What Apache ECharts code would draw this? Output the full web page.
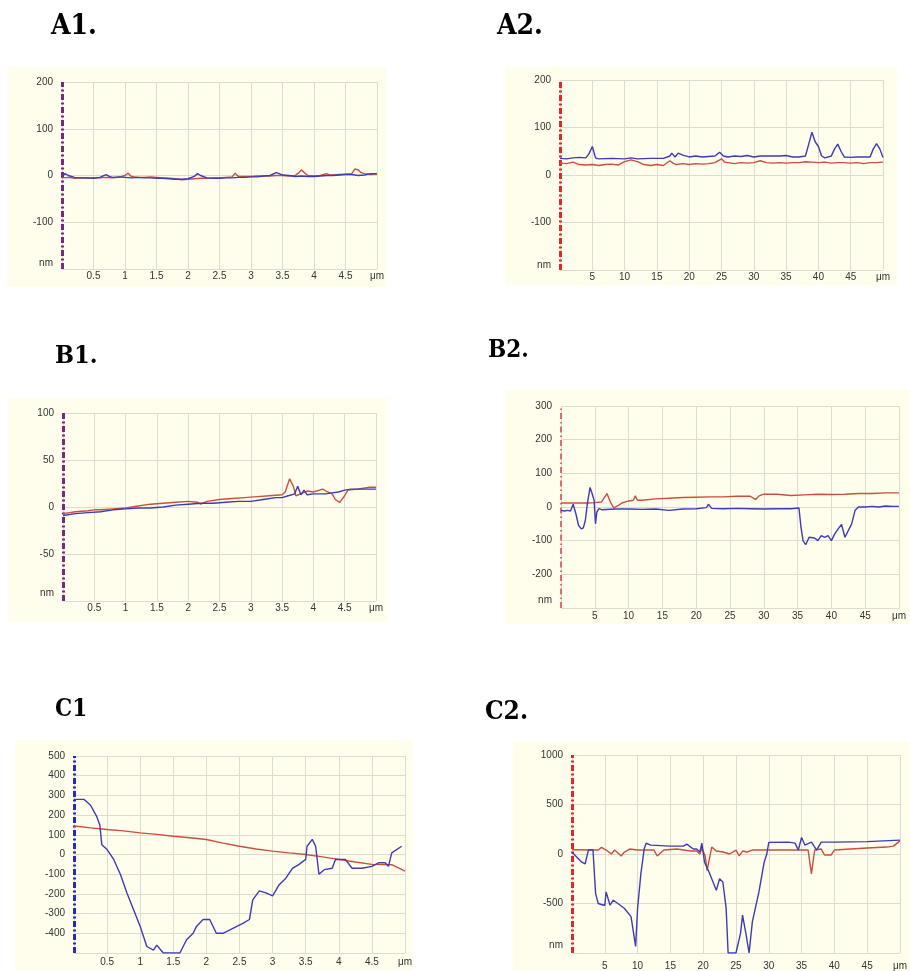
<!DOCTYPE html>
<html>
<head>
<meta charset="utf-8">
<style>
  html, body { margin: 0; padding: 0; background: #fff; }
  #chart { width: 910px; height: 971px; }
</style>
<script src="https://cdn.jsdelivr.net/npm/echarts@6/dist/echarts.min.js"></script>
</head>
<body>
<div id="chart"></div>
<script>
// profile data: [position, height]
// A1 (0-5 um, +-200 nm)
const a1Blue = [[0,-2],[0.05,4],[0.1,0],[0.2,-4],[0.3,-5],[0.4,-5],[0.5,-6],[0.6,-4],[0.7,2],[0.75,-2],[0.8,-4],[0.9,-3],[1.0,-4],[1.1,-5],[1.2,-4],[1.3,-5],[1.4,-5],[1.5,-6],[1.6,-6],[1.7,-7],[1.8,-8],[1.9,-8],[2.0,-7],[2.1,-2],[2.15,4],[2.2,0],[2.3,-5],[2.4,-6],[2.5,-6],[2.6,-5],[2.7,-5],[2.8,-4],[2.9,-4],[3.0,-3],[3.1,-3],[3.2,-1],[3.3,0],[3.4,6],[3.45,4],[3.5,1],[3.6,0],[3.7,-2],[3.8,-1],[3.9,-2],[4.0,-2],[4.1,-1],[4.2,0],[4.3,0],[4.4,1],[4.5,2],[4.6,2],[4.7,0],[4.8,1],[4.9,4],[5.0,4]]
const a1Red = [[0,-5],[0.1,-4],[0.2,-6],[0.3,-5],[0.4,-6],[0.5,-5],[0.6,-5],[0.7,-4],[0.8,-5],[0.9,-4],[1.0,0],[1.05,5],[1.1,-2],[1.2,-4],[1.3,-4],[1.4,-3],[1.5,-4],[1.6,-5],[1.7,-6],[1.8,-7],[1.9,-9],[2.0,-8],[2.1,-7],[2.2,-6],[2.3,-6],[2.4,-5],[2.5,-5],[2.6,-4],[2.7,-3],[2.75,5],[2.8,-2],[2.9,-2],[3.0,-2],[3.1,-1],[3.2,-1],[3.3,-1],[3.4,0],[3.5,0],[3.6,-1],[3.7,0],[3.75,5],[3.8,12],[3.85,6],[3.9,0],[4.0,-1],[4.1,0],[4.2,4],[4.25,1],[4.3,1],[4.4,2],[4.5,3],[4.6,4],[4.65,14],[4.7,12],[4.75,6],[4.8,4],[4.9,2],[5.0,3]]

// A2 (0-50 um, +-200 nm)
const a2Blue = [[0,35],[1,34],[2,36],[3,37],[4,36],[4.5,45],[5,60],[5.5,36],[6,34],[8,35],[10,34],[11,36],[12,34],[14,35],[16,35],[17,40],[17.3,46],[17.8,38],[18.3,46],[19,42],[20,38],[21,40],[22,38],[23,39],[24,40],[24.7,48],[25.3,40],[26,38],[27,40],[28,39],[29,41],[30,38],[31,40],[32,40],[33,40],[34,40],[35,41],[36,38],[37,38],[38,40],[38.5,65],[39,90],[39.5,70],[40,60],[40.5,40],[41,36],[42,40],[42.5,55],[43,65],[43.5,50],[44,38],[45,37],[46,38],[47,38],[48,38],[48.5,55],[49,66],[49.5,55],[50,37]]
const a2Red = [[0,25],[1,24],[2,27],[3,22],[4,21],[5,22],[6,20],[7,22],[8,23],[9,21],[10,28],[11,32],[12,28],[13,22],[14,20],[15,22],[16,20],[17,30],[17.5,25],[18,22],[19,24],[20,22],[21,24],[22,23],[23,24],[24,26],[25,34],[25.5,27],[26,26],[27,24],[28,26],[29,25],[30,26],[31,30],[32,26],[33,25],[34,26],[35,25],[36,26],[37,26],[38,28],[39,27],[40,26],[41,27],[42,25],[43,26],[44,26],[45,25],[46,26],[47,24],[48,26],[49,26],[50,27]]

// B1 (0-5 um, +-100 nm)
const b1Blue = [[0,-9],[0.2,-7],[0.4,-6],[0.6,-5],[0.8,-3],[1.0,-2],[1.2,-1],[1.4,-1],[1.6,0],[1.8,2],[2.0,3],[2.2,4],[2.4,4],[2.6,5],[2.8,6],[3.0,6],[3.2,8],[3.4,10],[3.5,10],[3.6,12],[3.7,14],[3.75,22],[3.8,13],[3.85,18],[3.9,13],[4.0,14],[4.1,14],[4.2,14],[4.3,15],[4.4,16],[4.5,18],[4.6,19],[4.8,19],[5.0,19]]
const b1Red = [[0,-7],[0.2,-5],[0.4,-4],[0.5,-3],[0.6,-3],[0.8,-2],[1.0,-1],[1.2,1],[1.4,3],[1.6,4],[1.8,5],[2.0,6],[2.15,5],[2.2,3],[2.3,6],[2.5,8],[2.7,9],[2.9,10],[3.1,11],[3.3,12],[3.5,13],[3.55,16],[3.62,30],[3.68,22],[3.72,12],[3.8,14],[3.9,17],[4.0,16],[4.1,18],[4.15,19],[4.2,17],[4.3,14],[4.35,8],[4.42,5],[4.5,12],[4.55,18],[4.7,19],[4.9,21],[5.0,21]]

// B2 (0-50 um, +-300 nm)
const b2Blue = [[0,-10],[0.5,-12],[1,-10],[1.4,-12],[1.8,8],[2.2,-20],[2.6,-55],[3,-65],[3.3,-62],[3.6,-40],[3.9,10],[4.3,58],[4.6,40],[4.9,20],[5.1,-50],[5.3,-15],[5.6,-5],[6,-8],[8,-6],[10,-6],[12,-7],[14,-6],[16,-10],[18,-6],[20,-5],[21.5,-2],[21.8,8],[22.3,-4],[24,-5],[26,-4],[28,-5],[30,-6],[32,-5],[34,-5],[35.2,-3],[35.5,-60],[35.8,-100],[36.2,-112],[36.7,-90],[37.5,-92],[38,-100],[38.5,-85],[39,-90],[39.5,-85],[40,-100],[40.5,-80],[41,-65],[41.5,-52],[42,-90],[42.5,-70],[43,-50],[43.5,-10],[44,0],[45,0],[46,2],[47,0],[48,3],[49,2],[50,2]]
const b2Red = [[0,12],[2,12],[4,12],[5,13],[6,15],[6.8,40],[7.3,15],[7.8,-3],[8.5,5],[9,12],[10,18],[10.7,20],[11,33],[11.3,20],[12,20],[14,24],[16,26],[18,28],[20,29],[22,30],[24,30],[26,32],[28,32],[28.8,22],[29.3,33],[30,38],[32,38],[34,34],[36,36],[38,38],[40,37],[42,38],[44,40],[46,40],[48,42],[50,42]]

// C1 (0-5 um, +-500 nm)
const c1Blue = [[0,280],[0.15,280],[0.25,250],[0.34,195],[0.39,150],[0.42,50],[0.5,25],[0.6,-25],[0.7,-100],[0.8,-195],[0.9,-280],[1.0,-365],[1.1,-467],[1.2,-485],[1.25,-460],[1.35,-500],[1.6,-500],[1.7,-433],[1.8,-400],[1.85,-365],[1.95,-330],[2.05,-330],[2.15,-400],[2.25,-400],[2.4,-375],[2.55,-350],[2.65,-330],[2.7,-230],[2.8,-185],[2.9,-195],[3.0,-210],[3.1,-153],[3.2,-120],[3.3,-70],[3.4,-50],[3.5,-25],[3.52,42],[3.6,77],[3.65,42],[3.7,-100],[3.78,-77],[3.9,-70],[3.95,-25],[4.1,-25],[4.2,-70],[4.35,-70],[4.5,-60],[4.6,-42],[4.7,-42],[4.75,-60],[4.8,8],[4.95,42]]
const c1Red = [[0,145],[0.25,135],[0.5,127],[0.75,120],[1.0,110],[1.25,102],[1.5,93],[1.75,85],[2.0,76],[2.25,58],[2.5,42],[2.75,28],[3.0,17],[3.25,8],[3.5,0],[3.75,-12],[4.0,-25],[4.25,-38],[4.5,-50],[4.8,-52],[5.0,-85]]

// C2 (0-50 um, +-1000 nm)
const c2Blue = [[0,17],[1.5,-83],[2,-100],[2.5,40],[3.2,40],[3.6,-400],[4,-500],[5,-520],[5.2,-383],[5.8,-517],[6.3,-467],[7,-500],[8,-550],[9,-633],[9.3,-620],[9.7,-933],[10,-550],[10.5,-200],[11,50],[11.3,110],[12,90],[15,80],[17,80],[17.5,100],[18.5,50],[19,50],[19.5,20],[19.8,110],[20.2,-80],[21,-200],[22,-367],[22.5,-250],[23,-283],[23.5,-550],[23.8,-1000],[25,-1000],[25.7,-800],[26,-617],[26.5,-800],[27,-1000],[27.5,-683],[28.5,-383],[29.3,-83],[29.7,0],[30,117],[33,120],[34,110],[34.5,40],[35,167],[35.5,90],[36.5,120],[37.3,40],[38,120],[40,120],[45,125],[50,140]]
const c2Red = [[0,43],[4,40],[4.5,67],[5.2,40],[6,0],[6.5,40],[7.5,-20],[8,20],[8.8,50],[10,40],[12.5,40],[13,-20],[14,40],[16,50],[18,30],[19,30],[19.5,0],[19.8,60],[20.3,-20],[20.6,-167],[21.3,70],[22,30],[23,20],[24,0],[25,40],[25.5,-20],[26,30],[26.7,20],[27.5,40],[36,40],[36.5,-200],[37,40],[38,50],[38.5,-10],[39.5,-10],[40,40],[45,60],[48,70],[49,80],[50,133]]

const panelNames = ['A1.', 'A2.', 'B1.', 'B2.', 'C1', 'C2.']
const xRanges = [[0, 5, 0.5], [0, 50, 5], [0, 5, 0.5], [0, 50, 5], [0, 5, 0.5], [0, 50, 5]]
const yRanges = [[-200, 200, 100], [-200, 200, 100], [-100, 100, 50], [-300, 300, 100], [-500, 500, 100], [-1000, 1000, 500]]
const blueSeries = [a1Blue, a2Blue, b1Blue, b2Blue, c1Blue, c2Blue]
const redSeries = [a1Red, a2Red, b1Red, b2Red, c1Red, c2Red]

// layout of each panel
const layout = [
  { grid: { left: 62, top: 82, width: 315, height: 187 }, bg: [7, 67, 380, 220], axis: '#7A2A7A', aw: 3, nm: 6, xm: 2, title: [51, 13, 28] },
  { grid: { left: 560, top: 80, width: 323, height: 190 }, bg: [505, 67, 392, 218], axis: '#E02828', aw: 3, nm: 5, xm: 2, title: [497, 13, 28] },
  { grid: { left: 63, top: 413, width: 313, height: 188 }, bg: [8, 398, 380, 224], axis: '#7A2A7A', aw: 3, nm: 8, xm: 2, title: [55, 344, 25] },
  { grid: { left: 561, top: 406, width: 338, height: 202 }, bg: [505, 390, 405, 234], axis: '#D84040', aw: 1.5, nm: 8, xm: 3, title: [488, 339, 24] },
  { grid: { left: 74, top: 756, width: 331, height: 197 }, bg: [15, 740, 398, 231], axis: '#2A2AB8', aw: 3, nm: 13, xm: 4, title: [55, 698, 24] },
  { grid: { left: 572, top: 755, width: 338, height: 200 }, bg: [513, 742, 397, 229], axis: '#E02828', aw: 3, nm: 8, xm: 8, title: [485, 699, 26] }
]

const labelFont = { fontFamily: 'Liberation Sans', fontSize: 10, color: '#333' }
const gridColor = '#DEDBD2'

const grids = []
const xAxes = []
const yAxes = []
const series = []
const titles = []
const graphics = []

layout.forEach((p, i) => {
  const [xMin, xMax, xStep] = xRanges[i]
  const [yMin, yMax, yStep] = yRanges[i]
  grids.push(Object.assign({ containLabel: false }, p.grid))
  graphics.push({
    type: 'rect',
    z: -10,
    shape: { x: p.bg[0], y: p.bg[1], width: p.bg[2], height: p.bg[3] },
    style: { fill: '#FFFDEC' }
  })
  titles.push({
    text: panelNames[i],
    left: p.title[0],
    top: p.title[1],
    padding: 0,
    textStyle: { fontFamily: 'DejaVu Serif Condensed, DejaVu Serif', fontWeight: 'bold', fontSize: p.title[2], color: '#000' }
  })
  xAxes.push({
    type: 'value',
    gridIndex: i,
    min: xMin,
    max: xMax,
    interval: xStep,
    axisLine: { show: false },
    axisTick: { show: false },
    splitLine: { show: true, lineStyle: { color: gridColor, width: 1 } },
    axisLabel: Object.assign({
      margin: p.xm,
      showMinLabel: false,
      formatter: v => (v === xMax ? 'μm' : String(v))
    }, labelFont)
  })
  yAxes.push({
    type: 'value',
    gridIndex: i,
    min: yMin,
    max: yMax,
    interval: yStep,
    axisLine: {
      show: true,
      onZero: false,
      // dash-dot axis line
      lineStyle: { color: p.axis, width: p.aw, type: p.aw > 2 ? [6, 2.5, 2, 2.5] : [6, 3, 1.5, 3], cap: 'butt' }
    },
    axisTick: { show: false },
    splitLine: { show: true, lineStyle: { color: gridColor, width: 1 } },
    axisLabel: Object.assign({
      margin: 9,
      formatter: v => (v === yMin ? '{nm|nm}' : String(v)),
      rich: { nm: Object.assign({ padding: [0, 0, p.nm * 2, 0] }, labelFont) }
    }, labelFont)
  })
  const base = {
    type: 'line',
    xAxisIndex: i,
    yAxisIndex: i,
    showSymbol: false,
    symbol: 'none',
    clip: true,
    animation: false
  }
  series.push(Object.assign({}, base, { name: panelNames[i] + ' red', data: redSeries[i], lineStyle: { color: '#C8503C', width: 1.4 }, z: 3 }))
  series.push(Object.assign({}, base, { name: panelNames[i] + ' blue', data: blueSeries[i], lineStyle: { color: '#3C3CB4', width: 1.4 }, z: 4 }))
})

const chart = echarts.init(document.getElementById('chart'), null, { renderer: 'canvas' })
chart.setOption({
  backgroundColor: '#ffffff',
  animation: false,
  title: titles,
  grid: grids,
  xAxis: xAxes,
  yAxis: yAxes,
  series: series,
  graphic: graphics
})
</script>
</body>
</html>
